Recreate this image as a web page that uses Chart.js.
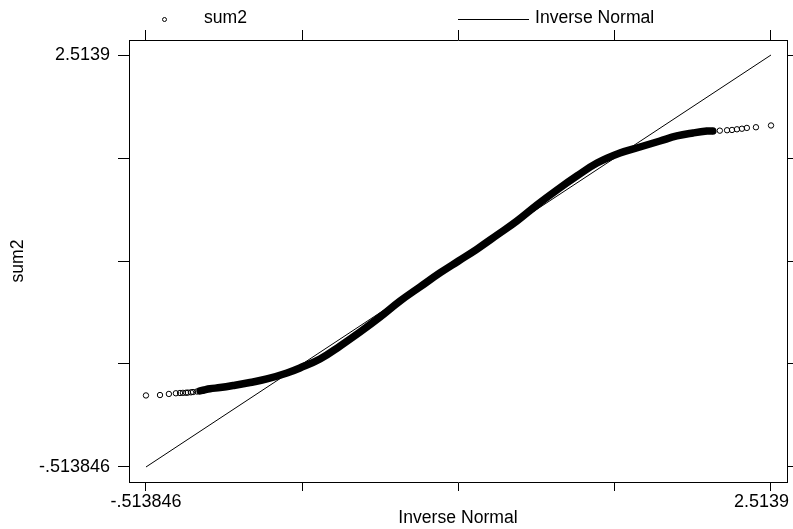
<!DOCTYPE html>
<html>
<head>
<meta charset="utf-8">
<title>qnorm sum2</title>
<script src="https://cdn.jsdelivr.net/npm/chart.js@4/dist/chart.umd.min.js"></script>
<style>
  html, body { margin: 0; padding: 0; background: #fff; }
  #wrap { position: relative; width: 793px; height: 529px; }
  .leg { position: absolute; font-family: "Liberation Sans", Arial, sans-serif; font-size: 17.6px; line-height: 1; color: #000; white-space: nowrap; }
  .leg-circle { position: absolute; left: 161.5px; top: 17px; width: 5px; height: 5px; box-sizing: border-box; border: 1px solid #000; border-radius: 50%; }
  .leg-line { position: absolute; left: 458px; top: 19px; width: 71px; border-top: 1px solid #000; }
</style>
</head>
<body>
<div id="wrap">
  <canvas id="qnorm" width="793" height="529"></canvas>
  <div class="leg-circle"></div>
  <div class="leg" id="leg-sum2" style="left:204px; top:9px;"></div>
  <div class="leg-line"></div>
  <div class="leg" id="leg-inv" style="left:535px; top:9px;"></div>
</div>
<script>
// inverse normal quantiles (x) and sorted sum2 values (y)
const quantiles = [
  -0.514, -0.446, -0.403, -0.369, -0.349, -0.335, -0.320, -0.311, -0.296, -0.286,
  -0.267, -0.252, -0.233, -0.204, -0.155, -0.092, -0.010, 0.072, 0.169, 0.232,
  0.329, 0.426, 0.523, 0.620, 0.717, 0.813, 0.910, 1.000, 1.090, 1.187,
  1.283, 1.380, 1.477, 1.574, 1.671, 1.782, 1.879, 1.976, 2.058, 2.136,
  2.203, 2.232, 2.266, 2.301, 2.325, 2.349, 2.373, 2.397, 2.441, 2.514
];
const sum2 = [
  0.012, 0.015, 0.023, 0.028, 0.030, 0.031, 0.032, 0.033, 0.035, 0.037,
  0.041, 0.045, 0.052, 0.061, 0.070, 0.085, 0.107, 0.133, 0.177, 0.214,
  0.280, 0.375, 0.478, 0.588, 0.706, 0.809, 0.912, 1.000, 1.088, 1.191,
  1.294, 1.412, 1.522, 1.625, 1.720, 1.794, 1.838, 1.882, 1.919, 1.941,
  1.955, 1.955, 1.958, 1.961, 1.963, 1.968, 1.972, 1.978, 1.983, 1.996
];
// reference line y = x between the extreme quantiles
const lineEnds = [-0.513846, 2.5139];
const tickValues = [-0.513846, 0.2431, 1.0, 1.7569, 2.5139];
const tickLabels = ["-.513846", "", "", "", "2.5139"];
const seriesNames = ["sum2", "Inverse Normal"];

// where the points pile up into a solid band
const denseFrom = -0.26;
const denseTo = 2.24;

Chart.defaults.font.family = '"Liberation Sans", Arial, sans-serif';
Chart.defaults.font.size = 18;
Chart.defaults.color = "#000";

function axis(position, range, size, tickLength, labelled) {
  const horizontal = position === "top" || position === "bottom";
  return {
    type: "linear",
    position: position,
    min: range[0],
    max: range[1],
    afterBuildTicks: (s) => { s.ticks = tickValues.map((v) => ({ value: v })); },
    afterFit: (s) => {
      if (horizontal) s.height = size; else s.width = size;
      // keep end labels from shrinking the plot box
      s.paddingLeft = 0; s.paddingRight = 0; s.paddingTop = 0; s.paddingBottom = 0;
    },
    grid: { drawOnChartArea: false, drawTicks: true, tickLength: tickLength, color: "#000", lineWidth: 1 },
    border: { display: true, color: "#000", width: 1 },
    ticks: {
      autoSkip: false,
      maxRotation: 0,
      padding: horizontal ? 0 : 8,
      callback: (v, i) => (labelled ? tickLabels[i] : ""),
    },
  };
}

const xRange = [-0.596201, 2.591439];
const yRange = [-0.62408, 2.624134];

const scales = {
  x: axis("bottom", xRange, 47, 9, true),
  x2: axis("top", xRange, 40, 10, false),
  y: axis("left", yRange, 129, 11, true),
  y2: axis("right", yRange, 6, 7, false),
};
scales.x.title = { display: true, text: seriesNames[1], font: { size: 17.6 }, padding: { top: 0, bottom: 0 } };
scales.y.title = { display: true, text: seriesNames[0], font: { size: 17.6 }, padding: { top: 7.5, bottom: 0 } };

// the last bottom label is pulled inside the window, right-aligned
const lastLabelInside = {
  id: "lastLabelInside",
  beforeDraw(chart) {
    const items = chart.scales.x.getLabelItems();
    const last = items[items.length - 1];
    if (last) {
      last.options.textAlign = "right";
      last.options.translation[0] = Math.min(last.options.translation[0] + 27.5, 789);
    }
  },
};

const chart = new Chart(document.getElementById("qnorm"), {
  type: "scatter",
  data: {
    datasets: [
      {
        label: seriesNames[0],
        data: quantiles.map((q, i) => ({ x: q, y: sum2[i] })),
        showLine: true,
        borderColor: "#000",
        borderWidth: 7.5,
        borderCapStyle: "round",
        borderJoinStyle: "round",
        tension: 0.4,
        segment: {
          borderColor: (ctx) =>
            ctx.p0.parsed.x < denseFrom || ctx.p1.parsed.x > denseTo ? "rgba(0,0,0,0)" : "#000",
        },
        pointStyle: "circle",
        pointRadius: 2.7,
        pointBorderWidth: 1,
        pointBorderColor: "#000",
        pointBackgroundColor: "rgba(0,0,0,0)",
        order: 1,
      },
      {
        label: seriesNames[1],
        data: lineEnds.map((v) => ({ x: v, y: v })),
        showLine: true,
        borderColor: "#000",
        borderWidth: 1,
        pointRadius: 0,
        order: 0,
      },
    ],
  },
  options: {
    responsive: false,
    devicePixelRatio: 1,
    animation: false,
    layout: { padding: 0 },
    plugins: {
      legend: { display: false },
      title: { display: false },
      tooltip: { enabled: false },
    },
    scales: scales,
  },
  plugins: [lastLabelInside],
});

document.getElementById("leg-sum2").textContent = chart.data.datasets[0].label;
document.getElementById("leg-inv").textContent = chart.data.datasets[1].label;
</script>
</body>
</html>
